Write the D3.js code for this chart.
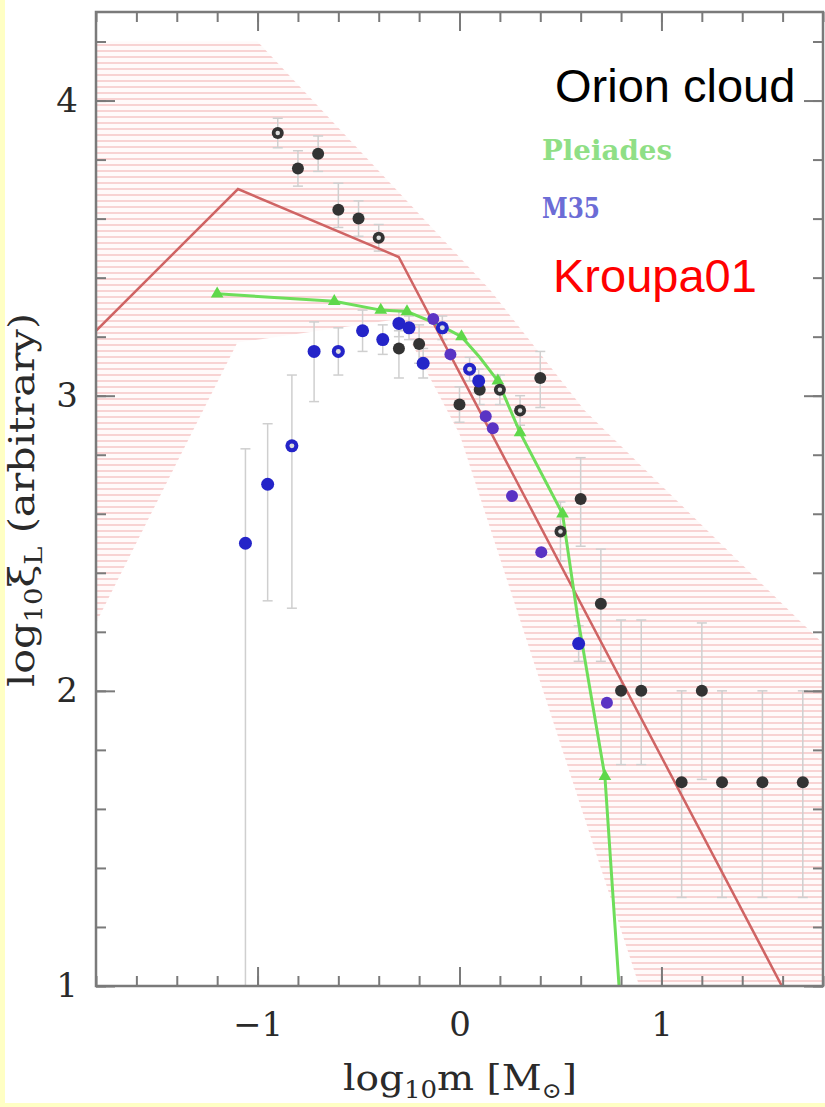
<!DOCTYPE html>
<html>
<head>
<meta charset="utf-8">
<script src="https://cdn.jsdelivr.net/npm/d3@7"></script>
<style>
  body { margin: 0; background: #fff; }
  svg text { font-family: "DejaVu Serif", serif; }
</style>
</head>
<body>
<svg id="chart" width="825" height="1107"></svg>
<script>
// Kroupa (2001) broken power law
const kroupaX = [-1.8, -1.097, -0.301, 1.6];
const kroupaY = [3.22, 3.70, 3.47, 0.995];

// uncertainty band outline (clockwise from top left)
const bandX = [-1.8, -1.0, 0.15, 0.62, 1.8, 1.8, 0.89, 0.0, -0.3, -1.1, -1.8];
const bandY = [4.2, 4.2, 3.36, 2.95, 2.16, 1.0, 1.0, 2.87, 3.26, 3.18, 2.23];

// Orion cloud points
const orionX  = [-0.9, -0.8, -0.7, -0.6, -0.5, -0.4, -0.3, -0.2, 0.0, 0.1, 0.2, 0.3, 0.4, 0.5, 0.6, 0.7, 0.8, 0.9, 1.1, 1.2, 1.3, 1.5, 1.7];
const orionY  = [3.89, 3.77, 3.82, 3.63, 3.60, 3.535, 3.16, 3.175, 2.97, 3.02, 3.02, 2.95, 3.06, 2.54, 2.65, 2.295, 2.0, 2.0, 1.69, 2.0, 1.69, 1.69, 1.69];
const orionLo = [3.84, 3.71, 3.76, 3.57, 3.54, 3.49, 3.06, 3.11, 2.91, 2.97, 2.97, 2.90, 2.96, 2.44, 2.49, 2.10, 1.75, 1.75, 1.30, 1.70, 1.30, 1.30, 1.30];
const orionHi = [3.94, 3.83, 3.88, 3.72, 3.66, 3.58, 3.22, 3.24, 3.03, 3.07, 3.07, 3.00, 3.15, 2.64, 2.79, 2.48, 2.24, 2.24, 2.00, 2.23, 2.00, 2.00, 2.00];
const orionOpen = [1, 0, 0, 0, 0, 1, 0, 0, 0, 0, 1, 1, 0, 1, 0, 0, 0, 0, 0, 0, 0, 0, 0];

// M35 points
const m35X  = [-1.06, -0.95, -0.83, -0.72, -0.60, -0.48, -0.38, -0.30, -0.25, -0.18, -0.085, 0.05, 0.095, 0.59];
const m35Y  = [2.50, 2.70, 2.83, 3.15, 3.15, 3.22, 3.19, 3.245, 3.23, 3.11, 3.23, 3.09, 3.05, 2.16];
const m35Lo = [1.00, 2.305, 2.28, 2.98, 3.07, 3.15, 3.14, 3.20, 3.19, 3.06, 3.19, 3.05, 3.01, 2.10];
const m35Hi = [2.82, 2.905, 3.07, 3.25, 3.23, 3.29, 3.24, 3.29, 3.27, 3.16, 3.27, 3.13, 3.09, 2.22];
const m35Open = [0, 0, 1, 0, 1, 0, 0, 0, 0, 0, 1, 1, 0, 0];

// M35 second sample (violet)
const m35vX = [-0.13, -0.045, 0.13, 0.165, 0.26, 0.405, 0.73];
const m35vY = [3.26, 3.14, 2.93, 2.89, 2.66, 2.47, 1.96];

// Pleiades line
const pleX = [-1.20, -0.62, -0.39, -0.26, -0.10, 0.01, 0.10, 0.19, 0.30, 0.51, 0.585, 0.72, 0.79];
const pleY = [3.345, 3.32, 3.29, 3.285, 3.24, 3.20, 3.13, 3.05, 2.875, 2.60, 2.25, 1.71, 1.0];
const pleMark = [1, 1, 1, 1, 0, 1, 0, 1, 1, 1, 0, 1, 0];

const xMajor = [-1, 0, 1];
const yMajor = [1, 2, 3, 4];

const svg = d3.select("#chart");
const x = d3.scaleLinear().domain([-1.8, 1.8]).range([96, 823]);
const y = d3.scaleLinear().domain([1, 4.3]).range([986, 12]);

// yellow page border
svg.append("rect").attr("x", 0).attr("y", 0).attr("width", 5).attr("height", 1107).attr("fill", "#ffffc4");
svg.append("rect").attr("x", 0).attr("y", 1103).attr("width", 825).attr("height", 4).attr("fill", "#ffffc4");

const defs = svg.append("defs");
const pat = defs.append("pattern").attr("id", "hatch")
  .attr("patternUnits", "userSpaceOnUse").attr("width", 8).attr("height", 6);
pat.append("rect").attr("width", 8).attr("height", 6).attr("fill", "#fffafa");
pat.append("line").attr("x1", 0).attr("x2", 8).attr("y1", 3).attr("y2", 3)
  .attr("stroke", "#f6c2c2").attr("stroke-width", 1.4);
defs.append("clipPath").attr("id", "plot").append("rect")
  .attr("x", 96).attr("y", 12).attr("width", 727).attr("height", 974);

const plot = svg.append("g").attr("clip-path", "url(#plot)");

// band
plot.append("path")
  .attr("d", d3.line().x(d => x(d[0])).y(d => y(d[1]))(d3.zip(bandX, bandY)) + "Z")
  .attr("fill", "url(#hatch)");

// error bars
function errorBars(xs, lo, hi) {
  const g = plot.append("g").attr("stroke", "#cfcfcf").attr("stroke-width", 1.5);
  xs.forEach((v, i) => {
    g.append("line").attr("x1", x(v)).attr("x2", x(v)).attr("y1", y(lo[i])).attr("y2", y(hi[i]));
    [lo[i], hi[i]].forEach(e => {
      g.append("line").attr("x1", x(v) - 5).attr("x2", x(v) + 5).attr("y1", y(e)).attr("y2", y(e));
    });
  });
}
errorBars(orionX, orionLo, orionHi);
errorBars(m35X, m35Lo, m35Hi);

// Kroupa line
plot.append("path")
  .attr("d", d3.line().x(d => x(d[0])).y(d => y(d[1]))(d3.zip(kroupaX, kroupaY)))
  .attr("fill", "none").attr("stroke", "#cf6464").attr("stroke-width", 2.5);

// Pleiades line + triangles
plot.append("path")
  .attr("d", d3.line().x(d => x(d[0])).y(d => y(d[1]))(d3.zip(pleX, pleY)))
  .attr("fill", "none").attr("stroke", "#6ede5a").attr("stroke-width", 3);
plot.append("g").selectAll("path")
  .data(d3.zip(pleX, pleY).filter((d, i) => pleMark[i]))
  .join("path")
  .attr("transform", d => `translate(${x(d[0])},${y(d[1])})`)
  .attr("d", d3.symbol(d3.symbolTriangle, 70))
  .attr("fill", "#5fd84a");

// points
function points(xs, ys, open, fill, r) {
  const g = plot.append("g");
  xs.forEach((v, i) => {
    g.append("circle").attr("cx", x(v)).attr("cy", y(ys[i])).attr("r", r).attr("fill", fill);
    if (open && open[i]) {
      g.append("circle").attr("cx", x(v)).attr("cy", y(ys[i])).attr("r", r * 0.38).attr("fill", "#ddd");
    }
  });
}
points(orionX, orionY, orionOpen, "#333", 6);
points(m35X, m35Y, m35Open, "#2424c8", 6.5);
points(m35vX, m35vY, null, "#5a34c4", 6);

// axes
function styleAxis(g) {
  g.select(".domain").remove();
  g.selectAll(".tick line").attr("stroke", "#7a7a7a").attr("stroke-width", 2);
  g.selectAll(".tick text").attr("fill", "#2a2a2a")
    .style("font-family", "'DejaVu Serif', serif").style("font-size", "34px");
}
const minorX = d3.range(-1.8, 1.81, 0.2);
const minorY = d3.range(1, 4.31, 0.2);

svg.append("g").attr("transform", `translate(0,${y(1)})`)
  .call(d3.axisBottom(x).tickValues(minorX).tickSize(-10).tickFormat("")).call(styleAxis);
svg.append("g").attr("transform", `translate(0,${y(1)})`)
  .call(d3.axisBottom(x).tickValues(xMajor).tickSize(-19).tickPadding(26).tickFormat(d3.format("d"))).call(styleAxis);
svg.append("g").attr("transform", `translate(0,${y(4.3)})`)
  .call(d3.axisTop(x).tickValues(minorX).tickSize(-10).tickFormat("")).call(styleAxis);
svg.append("g").attr("transform", `translate(0,${y(4.3)})`)
  .call(d3.axisTop(x).tickValues(xMajor).tickSize(-19).tickFormat("")).call(styleAxis);

svg.append("g").attr("transform", `translate(${x(-1.8)},0)`)
  .call(d3.axisLeft(y).tickValues(minorY).tickSize(-10).tickFormat("")).call(styleAxis);
svg.append("g").attr("transform", `translate(${x(-1.8)},0)`)
  .call(d3.axisLeft(y).tickValues(yMajor).tickSize(-19).tickPadding(18).tickFormat(d3.format("d"))).call(styleAxis);
svg.append("g").attr("transform", `translate(${x(1.8)},0)`)
  .call(d3.axisRight(y).tickValues(minorY).tickSize(-10).tickFormat("")).call(styleAxis);
svg.append("g").attr("transform", `translate(${x(1.8)},0)`)
  .call(d3.axisRight(y).tickValues(yMajor).tickSize(-19).tickFormat("")).call(styleAxis);

svg.append("rect").attr("x", 96).attr("y", 12).attr("width", 727).attr("height", 974)
  .attr("fill", "none").attr("stroke", "#7a7a7a").attr("stroke-width", 2.5);

// axis titles
const xt = svg.append("text").attr("x", 460).attr("y", 1090).attr("text-anchor", "middle")
  .attr("fill", "#2a2a2a").style("font-size", "36px")
  .attr("textLength", 234).attr("lengthAdjust", "spacingAndGlyphs");
xt.append("tspan").text("log");
xt.append("tspan").attr("dy", 8).style("font-size", "24px").text("10");
xt.append("tspan").attr("dy", -8).text("m  [M");
xt.append("tspan").attr("dy", 8).style("font-size", "22px").text("⊙");
xt.append("tspan").attr("dy", -8).text("]");

const yt = svg.append("text").attr("transform", "translate(34,500) rotate(-90)")
  .attr("text-anchor", "middle").attr("fill", "#2a2a2a").style("font-size", "36px")
  .attr("textLength", 374).attr("lengthAdjust", "spacingAndGlyphs");
yt.append("tspan").text("log");
yt.append("tspan").attr("dy", 8).style("font-size", "24px").text("10");
yt.append("tspan").attr("dy", -8).text("ξ");
yt.append("tspan").attr("dy", 8).style("font-size", "24px").text("L");
yt.append("tspan").attr("dy", -8).text(" (arbitrary)");

// legend texts
svg.append("text").attr("x", 542).attr("y", 160).attr("fill", "#8fdf86")
  .style("font-size", "27px").style("font-weight", "bold")
  .attr("textLength", 130).attr("lengthAdjust", "spacingAndGlyphs").text("Pleiades");
svg.append("text").attr("x", 542).attr("y", 218).attr("fill", "#6c6cd6")
  .style("font-size", "27px").style("font-weight", "bold")
  .attr("textLength", 58).attr("lengthAdjust", "spacingAndGlyphs").text("M35");
svg.append("text").attr("x", 555).attr("y", 102).attr("fill", "#000")
  .style("font-family", "'Liberation Sans', Arial, sans-serif").style("font-size", "47px").text("Orion cloud");
svg.append("text").attr("x", 553).attr("y", 292).attr("fill", "#ff0000")
  .style("font-family", "'Liberation Sans', Arial, sans-serif").style("font-size", "47px").text("Kroupa01");
</script>
</body>
</html>
